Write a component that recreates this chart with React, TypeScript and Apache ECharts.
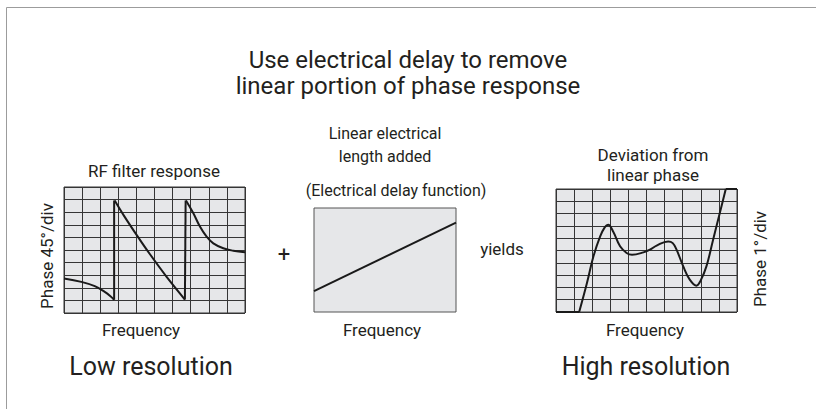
import React, { useEffect, useRef } from "react";
import * as echarts from "echarts";

// Left panel: RF filter response (phase, 45°/div), x and y in divisions
const filterSeg1: number[][] = [[0, 2.74], [0.96, 2.47], [1.7, 2.13], [2.25, 1.67], [2.55, 1.35], [2.77, 1.05]];
const filterJump1: number[][] = [[2.77, 1.05], [2.77, 8.93]];
const filterSeg2: number[][] = [[2.8, 8.93], [3.3, 7.75], [4.01, 6.2], [4.74, 4.68], [5.67, 2.87], [6.68, 1.07]];
const filterJump2: number[][] = [[6.68, 1.07], [6.72, 8.93]];
const filterSeg3: number[][] = [[6.74, 8.93], [7.14, 7.93], [7.51, 6.86], [7.88, 6.06], [8.25, 5.53], [8.8, 5.14], [9.35, 4.94], [10, 4.82]];

// Middle panel: linear electrical delay
const delayLine: number[][] = [[0, 2.0], [10, 8.6]];

// Right panel: deviation from linear phase (1°/div)
const devFlatStart: number[][] = [[0, 0], [1.28, 0]];
const devCurve: number[][] = [
  [1.28, 0], [1.71, 2.36], [2.07, 4.53], [2.44, 6.15], [2.7, 6.9], [2.88, 7.1], [3.17, 6.5],
  [3.54, 5.34], [3.9, 4.8], [4.2, 4.66], [4.83, 4.85], [5.19, 5.07], [5.56, 5.4], [6.2, 5.74],
  [6.45, 5.6], [6.66, 5.07], [7.03, 3.71], [7.39, 2.63], [7.76, 2.14], [7.97, 2.49], [8.31, 3.71],
  [8.68, 5.88], [9.05, 8.05], [9.38, 10],
];
const devFlatEnd: number[][] = [[9.38, 10], [10, 10]];

const centerTickLeft = [[{ coord: [-0.13, 5] }, { coord: [0, 5] }]];
const centerTickRight = [[{ coord: [-0.16, 5] }, { coord: [0, 5] }]];

const FONT = "Roboto, 'Noto Sans', sans-serif";
const INK = "#231f20";
const GRIDLINE = "#353535";
const PANEL = "#e6e7e9";

function axis(idx: number, grid: boolean) {
  return {
    type: "value" as const,
    gridIndex: idx,
    min: 0,
    max: 10,
    interval: 1,
    axisLabel: { show: false },
    axisLine: { show: false },
    axisTick: { show: false },
    splitLine: { show: grid, lineStyle: { color: GRIDLINE, width: 1 } },
  };
}

function line(data: number[][], xi: number, smooth: number | boolean, extra: any = {}) {
  return {
    type: "line",
    xAxisIndex: xi,
    yAxisIndex: xi,
    data,
    smooth,
    showSymbol: false,
    symbol: "none",
    clip: false,
    lineStyle: { color: "#1a1a1a", width: 2 },
    silent: true,
    ...extra,
  };
}

function text(t: string, x: number, y: number, size: number, rot = 0) {
  return {
    type: "text",
    x,
    y,
    rotation: rot,
    silent: true,
    style: {
      text: t,
      fontSize: size,
      fontFamily: FONT,
      fill: INK,
      textAlign: "center",
      textVerticalAlign: "middle",
    },
  };
}

export default function App() {
  const ref = useRef<HTMLDivElement>(null);
  useEffect(() => {
    const chart = echarts.init(ref.current!, null, { renderer: "svg" });
    const tickMark = (d: any) => ({
      silent: true,
      symbol: "none",
      label: { show: false },
      lineStyle: { color: GRIDLINE, width: 1, type: "solid" },
      data: d,
    });
    chart.setOption({
      animation: false,
      backgroundColor: "#ffffff",
      grid: [
        { left: 64, top: 187, width: 181, height: 126, show: true, backgroundColor: PANEL, borderColor: GRIDLINE, borderWidth: 1 },
        { left: 314, top: 208, width: 142, height: 104, show: true, backgroundColor: PANEL, borderColor: "#555555", borderWidth: 1 },
        { left: 556, top: 189, width: 181, height: 123, show: true, backgroundColor: PANEL, borderColor: GRIDLINE, borderWidth: 1 },
      ],
      xAxis: [axis(0, true), axis(1, false), axis(2, true)],
      yAxis: [axis(0, true), axis(1, false), axis(2, true)],
      series: [
        line(filterSeg1, 0, 0.4, { markLine: tickMark(centerTickLeft) }),
        line(filterJump1, 0, false),
        line(filterSeg2, 0, 0.3),
        line(filterJump2, 0, false),
        line(filterSeg3, 0, 0.4),
        line(delayLine, 1, false),
        line(devFlatStart, 2, false, { markLine: tickMark(centerTickRight) }),
        line(devCurve, 2, 0.4),
        line(devFlatEnd, 2, false),
      ],
      graphic: [
        {
          type: "rect",
          silent: true,
          z: -10,
          shape: { x: 6.5, y: 7.5, width: 1000, height: 1000 },
          style: { fill: "none", stroke: "#9c9c9c", lineWidth: 1 },
        },
        text("Use electrical delay to remove", 408, 60, 24),
        text("linear portion of phase response", 408, 86, 24),
        text("RF filter response", 154, 171, 17),
        text("Phase 45°/div", 47, 256, 17, Math.PI / 2),
        text("Frequency", 141, 330, 17),
        text("Linear electrical", 385, 133, 16),
        text("length added", 385, 156, 16),
        text("(Electrical delay function)", 396, 190, 16),
        text("Frequency", 382, 330, 17),
        text("+", 284, 254, 22),
        text("yields", 502, 249, 17),
        text("Deviation from", 653, 155, 17),
        text("linear phase", 653, 175, 17),
        text("Phase 1°/div", 760, 259, 17, Math.PI / 2),
        text("Frequency", 645, 330, 17),
        text("Low resolution", 151, 366, 25),
        text("High resolution", 646, 366, 25),
      ],
    });
    return () => chart.dispose();
  }, []);
  return (
    <div
      ref={ref}
      style={{ position: "fixed", left: 0, top: 0, width: 816, height: 409, background: "#fff" }}
    />
  );
}
